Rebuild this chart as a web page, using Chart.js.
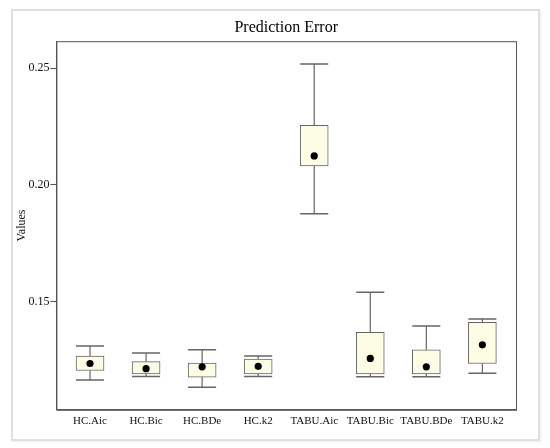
<!DOCTYPE html>
<html>
<head>
<meta charset="utf-8">
<script src="https://cdn.jsdelivr.net/npm/chart.js@4"></script>
<style>
  html, body { margin: 0; padding: 0; background: #fff; }
  #wrap { position: relative; width: 550px; height: 448px; }
  #frame {
    position: absolute; left: 11px; top: 9px; width: 525px; height: 428px;
    border: 2px solid #e0e0e0; box-shadow: 1px 1px 2px rgba(0,0,0,0.08);
    pointer-events: none;
  }
</style>
</head>
<body>
<div id="wrap">
  <canvas id="chart" width="550" height="448"></canvas>
  <div id="frame"></div>
</div>
<script>
// values
const categories = ['HC.Aic', 'HC.Bic', 'HC.BDe', 'HC.k2', 'TABU.Aic', 'TABU.Bic', 'TABU.BDe', 'TABU.k2'];
const whiskerLow = [0.1166, 0.1181, 0.1135, 0.1181, 0.1877, 0.1179, 0.1179, 0.1194];
const boxLow = [0.1206, 0.1191, 0.1178, 0.1192, 0.2081, 0.1192, 0.1192, 0.1236];
const boxHigh = [0.1268, 0.1244, 0.1238, 0.1255, 0.2255, 0.1369, 0.1295, 0.1412];
const whiskerHigh = [0.1311, 0.1281, 0.1295, 0.1268, 0.2517, 0.1541, 0.1397, 0.1426];
const means = [0.1236, 0.1214, 0.1222, 0.1224, 0.2124, 0.1258, 0.1222, 0.1316];
const yTicks = [0.15, 0.20, 0.25];

const serif = "'Liberation Serif', 'DejaVu Serif', serif";
const lineColor = '#666';
const capHalf = 0.25;

// whisker stems, broken with null points between segments
const stems = categories.flatMap((c, i) => [
    { x: i, y: whiskerHigh[i] }, { x: i, y: boxHigh[i] }, { x: i, y: null },
    { x: i, y: boxLow[i] }, { x: i, y: whiskerLow[i] }, { x: i, y: null }
]);

const caps = categories.flatMap((c, i) => [
    { x: i - capHalf, y: whiskerHigh[i] }, { x: i + capHalf, y: whiskerHigh[i] }, { x: i, y: null },
    { x: i - capHalf, y: whiskerLow[i] }, { x: i + capHalf, y: whiskerLow[i] }, { x: i, y: null }
]);

// full rectangle around the plot area
const plotBorder = {
    id: 'plotBorder',
    beforeDatasetsDraw(chart) {
        const { ctx, chartArea: a } = chart;
        ctx.save();
        ctx.strokeStyle = '#555';
        ctx.lineWidth = 1;
        ctx.strokeRect(a.left + 0.5, a.top + 0.5, a.right - a.left, a.bottom - a.top);
        ctx.restore();
    }
};

new Chart(document.getElementById('chart'), {
    type: 'bar',
    data: {
        datasets: [
            {
                type: 'scatter',
                data: categories.map((c, i) => ({ x: i, y: means[i] })),
                pointRadius: 3.6,
                pointBackgroundColor: '#000',
                pointBorderWidth: 0
            },
            {
                type: 'line',
                data: stems,
                borderColor: lineColor,
                borderWidth: 1.2,
                pointRadius: 0,
                spanGaps: false
            },
            {
                type: 'line',
                data: caps,
                borderColor: lineColor,
                borderWidth: 1.5,
                pointRadius: 0,
                spanGaps: false
            },
            {
                type: 'bar',
                data: categories.map((c, i) => ({ x: i, y: [boxLow[i], boxHigh[i]] })),
                backgroundColor: '#fdfde6',
                borderColor: lineColor,
                borderWidth: 1,
                borderSkipped: false,
                barThickness: 28
            }
        ]
    },
    options: {
        responsive: false,
        animation: false,
        layout: { padding: { left: 15, right: 34, top: 0, bottom: 15 } },
        plugins: {
            legend: { display: false },
            tooltip: { enabled: false },
            title: {
                display: true,
                fullSize: false,
                text: 'Prediction Error',
                color: '#000',
                font: { family: serif, size: 16, weight: 'normal' },
                padding: { top: 18, bottom: 4 }
            }
        },
        scales: {
            x: {
                type: 'linear',
                offset: false,
                min: -0.6,
                max: 7.6,
                afterBuildTicks: axis => { axis.ticks = categories.map((c, i) => ({ value: i })); },
                ticks: {
                    autoSkip: false,
                    maxRotation: 0,
                    padding: 5,
                    color: '#111',
                    font: { family: serif, size: 11 },
                    callback: v => categories[v]
                },
                grid: { display: false, drawTicks: false },
                border: { display: true, color: '#555' }
            },
            y: {
                type: 'linear',
                min: 0.1038,
                max: 0.2615,
                afterBuildTicks: axis => { axis.ticks = yTicks.map(v => ({ value: v })); },
                ticks: {
                    padding: 1,
                    color: '#111',
                    font: { family: serif, size: 12 },
                    callback: v => v.toFixed(2)
                },
                grid: { display: true, drawOnChartArea: false, drawTicks: true, tickLength: 6, color: '#555' },
                border: { display: true, color: '#555' },
                title: {
                    display: true,
                    text: 'Values',
                    color: '#111',
                    font: { family: serif, size: 12 },
                    padding: { top: 0, bottom: -2 }
                }
            }
        }
    },
    plugins: [plotBorder]
});
</script>
</body>
</html>
